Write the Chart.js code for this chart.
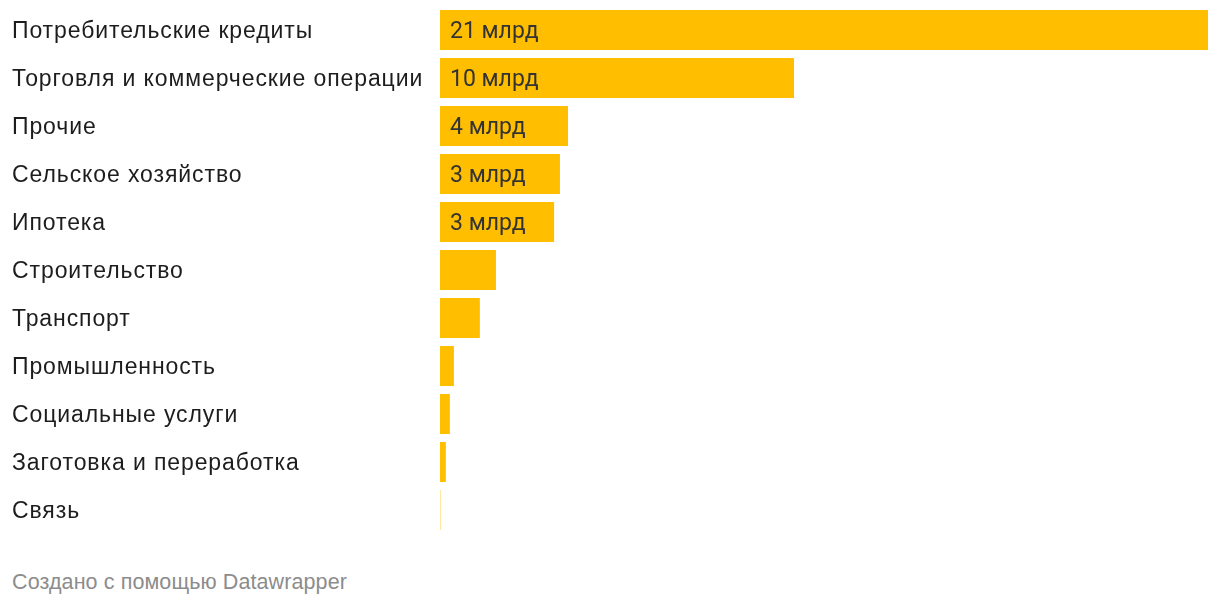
<!DOCTYPE html>
<html>
<head>
<meta charset="utf-8">
<script src="https://cdn.jsdelivr.net/npm/chart.js@4"></script>
<style>
  html, body { margin: 0; padding: 0; background: #fff; }
  #wrap { position: relative; width: 1220px; height: 540px; }
  #footer {
    position: absolute; left: 12px; top: 570px;
    font-family: "Liberation Sans", Arial, sans-serif; font-size: 21.5px;
    letter-spacing: 0.1px; color: #8c8c8c;
  }
</style>
</head>
<body>
<div id="wrap"><canvas id="myChart"></canvas></div>
<div id="footer">Создано с помощью Datawrapper</div>
<script>
const categories = ['Потребительские кредиты', 'Торговля и коммерческие операции', 'Прочие',
    'Сельское хозяйство', 'Ипотека', 'Строительство', 'Транспорт', 'Промышленность',
    'Социальные услуги', 'Заготовка и переработка', 'Связь'];
// млрд
const values = [21, 9.68, 3.5, 3.28, 3.12, 1.53, 1.09, 0.38, 0.27, 0.16, 0.01];
const unit = ' млрд';

// slightly wider tracking for the category labels
const tracking = {
    id: 'tracking',
    beforeDraw(chart) { chart.ctx.letterSpacing = '0.9px'; },
    afterDraw(chart) { chart.ctx.letterSpacing = '0px'; }
};

// value labels inside the bars, only where they fit
const barLabels = {
    id: 'barLabels',
    afterDatasetsDraw(chart) {
        const ctx = chart.ctx;
        const meta = chart.getDatasetMeta(0);
        ctx.save();
        ctx.letterSpacing = '0px';
        ctx.font = '23px Roboto';
        ctx.fillStyle = '#333333';
        ctx.textBaseline = 'middle';
        ctx.textAlign = 'left';
        meta.data.forEach((bar, i) => {
            const text = Math.round(values[i]) + unit;
            const w = ctx.measureText(text).width;
            if (bar.x - bar.base > w + 20) {
                ctx.fillText(text, bar.base + 10, bar.y + 2);
            }
        });
        ctx.restore();
    }
};

const ctx = document.getElementById('myChart').getContext('2d');
const myChart = new Chart(ctx, {
    type: 'bar',
    data: {
        labels: categories,
        datasets: [{
            data: values,
            backgroundColor: '#ffbf00',
            borderWidth: 0,
            barPercentage: 1,
            categoryPercentage: 40 / 48
        }]
    },
    options: {
        indexAxis: 'y',
        responsive: true,
        maintainAspectRatio: false,
        animation: false,
        layout: { padding: { left: 12, right: 12, top: 6, bottom: 6 } },
        plugins: {
            legend: { display: false },
            tooltip: { enabled: false }
        },
        scales: {
            x: {
                display: false,
                min: 0,
                max: 21
            },
            y: {
                grid: { display: false, drawTicks: false },
                border: { display: false },
                ticks: {
                    crossAlign: 'far',
                    padding: 0,
                    labelOffset: 2,
                    color: '#1d1d1d',
                    font: { family: '"Liberation Sans", Arial', size: 23 }
                },
                afterFit(scale) {
                    scale.width = 428;
                    scale.paddingTop = 0;
                    scale.paddingBottom = 0;
                }
            }
        }
    },
    plugins: [tracking, barLabels]
});
</script>
</body>
</html>
